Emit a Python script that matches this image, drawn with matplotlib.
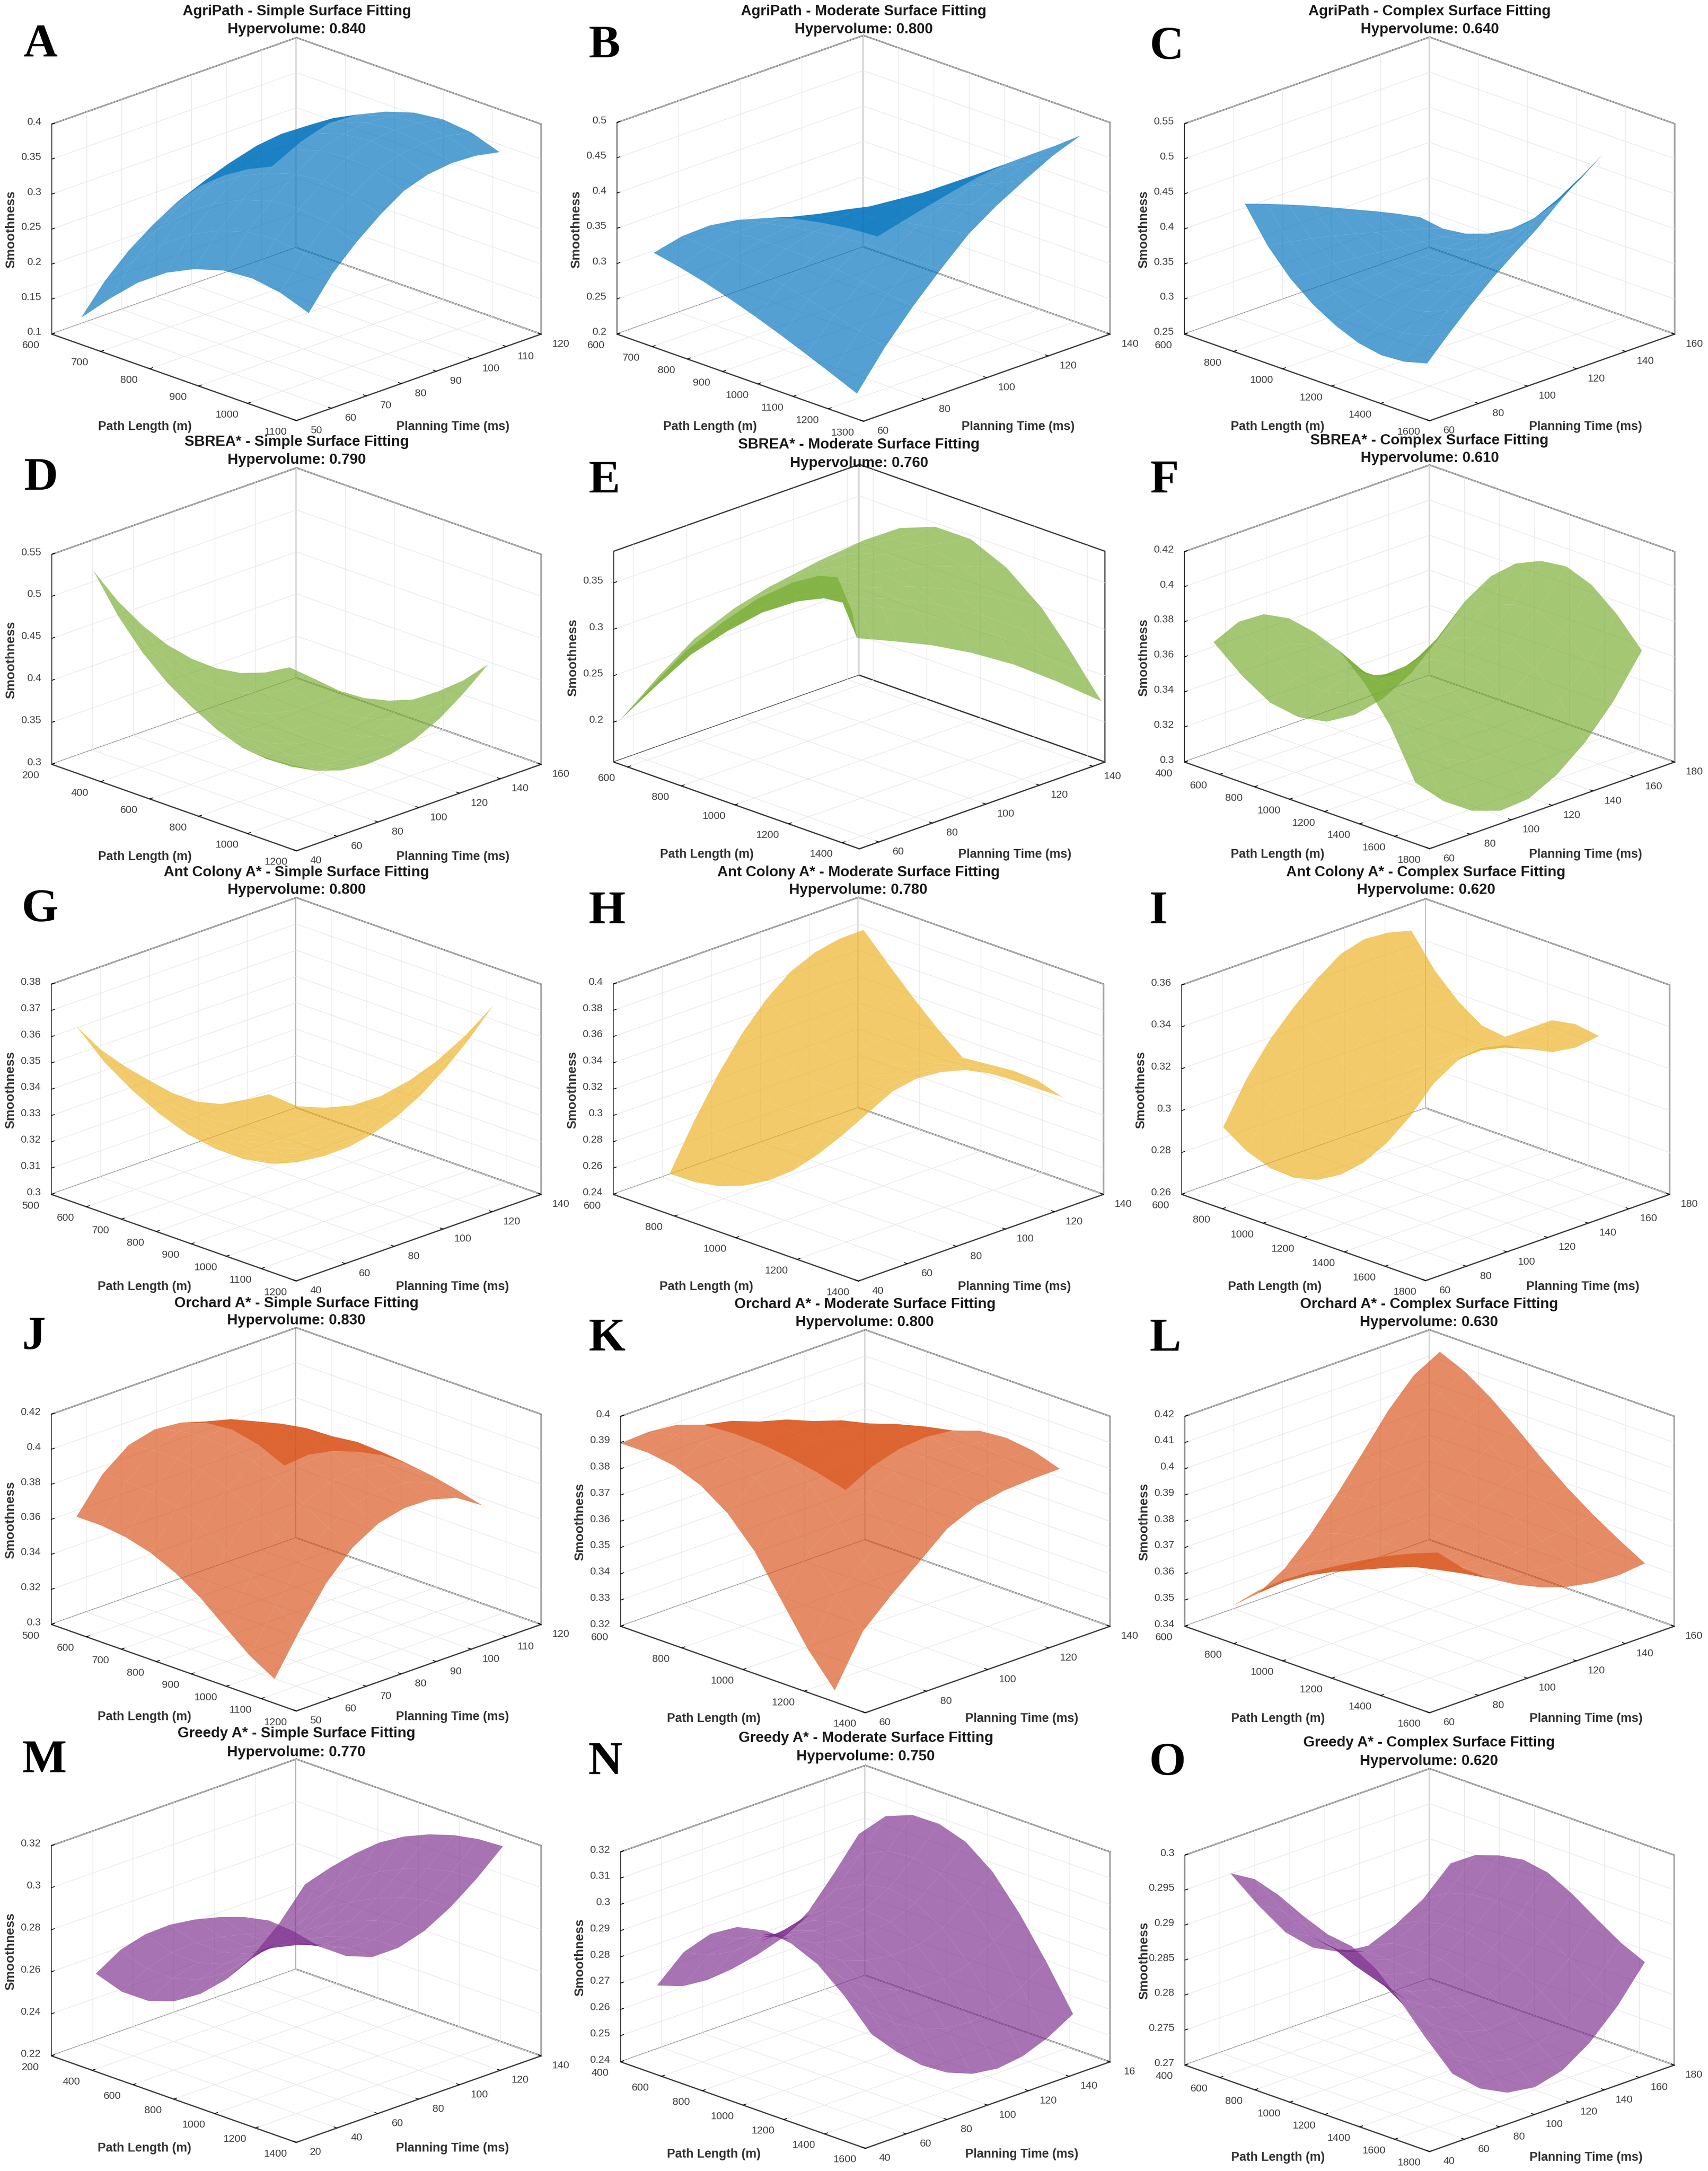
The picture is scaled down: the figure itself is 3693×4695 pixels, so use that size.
import numpy as np
import matplotlib
matplotlib.use("Agg")
import matplotlib.pyplot as plt
from mpl_toolkits.mplot3d import proj3d

plt.rcParams["font.family"] = ["Liberation Sans", "DejaVu Sans"]
W, H = 3693, 4695

BLUE, GREEN, YELLOW, ORANGE, PURPLE = "#0072BD", "#77AC30", "#EDB120", "#D95319", "#7E2F8E"

# surface values: path length, planning time, smoothness[time][path]
A_path = [630, 688, 746, 804, 862, 921, 979, 1037, 1095]
A_time = [54.2, 61.0, 67.8, 74.7, 81.5, 88.3, 95.2, 102.0, 108.8]
A_smooth = [[.1235, .1648, .2022, .2307, .2503, .2627, .2660, .2597, .2450],
            [.1642, .2068, .2449, .2734, .2931, .3059, .3096, .3038, .2894],
            [.1954, .2388, .2774, .3056, .3251, .3379, .3417, .3361, .3217],
            [.2200, .2646, .3038, .3319, .3514, .3644, .3686, .3634, .3493],
            [.2400, .2856, .3254, .3533, .3727, .3859, .3904, .3855, .3715],
            [.2516, .2979, .3379, .3654, .3844, .3974, .4018, .3968, .3827],
            [.2546, .3017, .3422, .3694, .3882, .4013, .4058, .4011, .3870],
            [.2513, .2994, .3404, .3672, .3860, .3991, .4038, .3993, .3853],
            [.2432, .2922, .3336, .3602, .3788, .3919, .3967, .3925, .3785]]

B_path = [652, 725, 797, 869, 941, 1013, 1085, 1157, 1229]
B_time = [66.0, 75.1, 84.2, 93.2, 102.3, 111.4, 120.5, 129.6, 138.6]
B_smooth = [[.3152, .3079, .2987, .2878, .2755, .2621, .2477, .2328, .2174],
            [.3246, .3225, .3187, .3133, .3067, .2986, .2893, .2793, .2692],
            [.3260, .3292, .3307, .3309, .3298, .3271, .3228, .3179, .3130],
            [.3198, .3285, .3358, .3417, .3466, .3495, .3505, .3508, .3516],
            [.3084, .3230, .3363, .3484, .3595, .3685, .3751, .3811, .3878],
            [.2937, .3133, .3318, .3493, .3658, .3800, .3915, .4024, .4141],
            [.2738, .2986, .3225, .3454, .3675, .3869, .4033, .4191, .4361],
            [.2515, .2815, .3109, .3394, .3671, .3920, .4135, .4344, .4566],
            [.2263, .2613, .2957, .3294, .3625, .3923, .4185, .4441, .4713]]

C_path = [723, 816, 909, 1002, 1095, 1188, 1281, 1374, 1467]
C_time = [72.3, 81.2, 90.2, 99.2, 108.1, 117.0, 126.0, 134.9, 143.9]
C_smooth = [[.4360, .3876, .3522, .3265, .3078, .2945, .2887, .2911, .3001],
            [.4248, .3822, .3522, .3315, .3178, .3098, .3095, .3173, .3315],
            [.4126, .3758, .3511, .3353, .3266, .3239, .3290, .3421, .3614],
            [.3998, .3685, .3489, .3379, .3339, .3363, .3467, .3650, .3892],
            [.3863, .3603, .3453, .3387, .3391, .3463, .3615, .3846, .4133],
            [.3726, .3516, .3412, .3389, .3435, .3553, .3753, .4030, .4362],
            [.3588, .3434, .3381, .3406, .3500, .3668, .3921, .4249, .4630],
            [.3442, .3343, .3340, .3412, .3554, .3772, .4077, .4456, .4886],
            [.3283, .3234, .3278, .3393, .3577, .3842, .4194, .4619, .5094]]

D_path = [285, 386, 488, 590, 691, 792, 894, 996, 1097]
D_time = [50.2, 62.2, 74.3, 86.3, 98.3, 110.3, 122.4, 134.4, 146.4]
D_smooth = [[.5304, .4870, .4531, .4275, .4089, .3930, .3824, .3806, .3828],
            [.4841, .4457, .4156, .3934, .3780, .3656, .3588, .3602, .3657],
            [.4447, .4113, .3849, .3662, .3540, .3450, .3422, .3467, .3556],
            [.4116, .3832, .3607, .3453, .3364, .3309, .3319, .3395, .3519],
            [.3846, .3612, .3423, .3304, .3246, .3225, .3273, .3381, .3538],
            [.3629, .3446, .3295, .3209, .3184, .3198, .3285, .3425, .3616],
            [.3468, .3336, .3224, .3174, .3182, .3231, .3358, .3530, .3757],
            [.3371, .3290, .3217, .3202, .3244, .3328, .3495, .3699, .3961],
            [.3330, .3298, .3260, .3278, .3351, .3469, .3672, .3907, .4201]]

E_path = [552, 684, 817, 950, 1083, 1215, 1313, 1383, 1437]
E_time = [52.7, 54.6, 60.2, 69.5, 82.5, 97.4, 113.3, 129.1, 145.9]
E_smooth = [[.1964, .2508, .3040, .3476, .3872, .4183, .4357, .4411, .4099],
            [.2006, .2501, .2982, .3366, .3707, .3963, .4095, .4119, .3792],
            [.2131, .2607, .3063, .3417, .3722, .3938, .4039, .4043, .3722],
            [.2342, .2784, .3197, .3503, .3747, .3897, .3944, .3915, .3603],
            [.2601, .3002, .3359, .3603, .3764, .3826, .3802, .3728, .3432],
            [.2775, .3141, .3447, .3631, .3711, .3686, .3590, .3470, .3198],
            [.2885, .3219, .3476, .3602, .3602, .3488, .3319, .3155, .2909],
            [.2965, .3264, .3469, .3533, .3450, .3244, .3000, .2790, .2569],
            [.3015, .3279, .3429, .3431, .3260, .2959, .2636, .2378, .2184]]

F_path = [483, 627, 771, 915, 1059, 1204, 1348, 1492, 1636]
F_time = [67.1, 80.9, 94.8, 108.7, 122.5, 136.4, 150.2, 164.1, 178.0]
F_smooth = [[.3684, .3851, .3945, .3972, .3944, .3888, .3752, .3563, .3290],
            [.3438, .3615, .3720, .3758, .3742, .3694, .3567, .3387, .3127],
            [.3225, .3415, .3533, .3585, .3581, .3544, .3429, .3259, .3015],
            [.3085, .3284, .3414, .3477, .3484, .3456, .3350, .3189, .2958],
            [.3002, .3213, .3355, .3431, .3451, .3432, .3337, .3185, .2969],
            [.2985, .3208, .3363, .3452, .3484, .3477, .3393, .3250, .3050],
            [.3020, .3254, .3422, .3523, .3567, .3569, .3496, .3363, .3177],
            [.3110, .3355, .3534, .3647, .3703, .3714, .3651, .3526, .3355],
            [.3258, .3513, .3703, .3828, .3894, .3914, .3860, .3744, .3586]]

G_path = [536, 616, 696, 776, 856, 936, 1016, 1096, 1176]
G_time = [45.1, 54.9, 64.8, 74.6, 84.4, 94.3, 104.1, 114.0, 123.8]
G_smooth = [[.3640, .3541, .3471, .3417, .3378, .3361, .3360, .3380, .3428],
            [.3520, .3432, .3375, .3334, .3309, .3306, .3320, .3354, .3415],
            [.3423, .3346, .3301, .3271, .3259, .3269, .3297, .3344, .3417],
            [.3338, .3272, .3239, .3221, .3223, .3247, .3288, .3349, .3434],
            [.3256, .3202, .3183, .3179, .3196, .3235, .3291, .3367, .3467],
            [.3191, .3149, .3144, .3154, .3186, .3241, .3312, .3403, .3517],
            [.3150, .3120, .3128, .3150, .3197, .3266, .3352, .3457, .3584],
            [.3133, .3114, .3133, .3167, .3226, .3308, .3407, .3526, .3665],
            [.3122, .3114, .3146, .3193, .3266, .3362, .3475, .3608, .3760]]

H_path = [692, 773, 854, 935, 1016, 1097, 1178, 1259, 1340]
H_time = [51.5, 61.4, 71.3, 81.2, 91.1, 100.9, 110.8, 120.7, 130.6]
H_smooth = [[.2558, .2561, .2596, .2667, .2773, .2918, .3107, .3323, .3555],
            [.2889, .2865, .2871, .2908, .2980, .3107, .3273, .3458, .3651],
            [.3183, .3129, .3101, .3102, .3137, .3242, .3381, .3533, .3684],
            [.3432, .3348, .3286, .3251, .3247, .3330, .3442, .3560, .3668],
            [.3627, .3514, .3421, .3352, .3313, .3377, .3464, .3550, .3618],
            [.3769, .3629, .3507, .3405, .3332, .3379, .3443, .3499, .3529],
            [.3850, .3689, .3540, .3410, .3307, .3340, .3385, .3416, .3411],
            [.3887, .3707, .3537, .3382, .3254, .3277, .3307, .3316, .3281],
            [.3890, .3696, .3509, .3335, .3185, .3203, .3222, .3214, .3153]]

I_path = [702, 817, 932, 1048, 1163, 1278, 1393, 1508, 1624]
I_time = [70.2, 81.8, 93.4, 104.9, 116.5, 128.1, 139.7, 151.2, 162.8]
I_smooth = [[.2921, .2847, .2806, .2799, .2827, .2891, .2989, .3123, .3291],
            [.3114, .3030, .2980, .2964, .2986, .3051, .3146, .3265, .3409],
            [.3262, .3167, .3107, .3081, .3096, .3161, .3253, .3356, .3476],
            [.3375, .3267, .3196, .3159, .3165, .3230, .3316, .3402, .3496],
            [.3472, .3347, .3261, .3209, .3204, .3264, .3341, .3406, .3470],
            [.3550, .3407, .3305, .3235, .3216, .3270, .3336, .3379, .3412],
            [.3581, .3427, .3314, .3234, .3208, .3261, .3323, .3350, .3357],
            [.3572, .3417, .3303, .3221, .3197, .3260, .3327, .3348, .3339],
            [.3542, .3391, .3284, .3208, .3193, .3272, .3351, .3372, .3355]]

J_path = [536, 606, 677, 748, 819, 890, 960, 1031, 1102]
J_time = [53.6, 61.0, 68.4, 75.9, 83.3, 90.7, 98.1, 105.6, 113.0]
J_smooth = [[.3615, .3615, .3597, .3558, .3493, .3402, .3286, .3171, .3088],
            [.3805, .3813, .3801, .3767, .3708, .3623, .3514, .3404, .3321],
            [.3918, .3941, .3941, .3919, .3873, .3801, .3705, .3607, .3531],
            [.3956, .3997, .4010, .4002, .3971, .3913, .3832, .3747, .3681],
            [.3942, .3998, .4024, .4028, .4010, .3966, .3899, .3826, .3767],
            [.3889, .3959, .3997, .4011, .4005, .3972, .3917, .3854, .3802],
            [.3798, .3882, .3931, .3956, .3961, .3940, .3896, .3844, .3798],
            [.3659, .3759, .3819, .3856, .3874, .3866, .3835, .3795, .3755],
            [.3488, .3600, .3671, .3716, .3745, .3747, .3727, .3696, .3660]]

K_path = [600, 688, 775, 862, 950, 1038, 1125, 1212, 1300]
K_time = [60.0, 69.2, 78.4, 87.6, 96.8, 106.0, 115.2, 124.4, 133.6]
K_smooth = [[.3897, .3898, .3883, .3844, .3774, .3666, .3516, .3365, .3244],
            [.3903, .3926, .3932, .3915, .3868, .3784, .3661, .3534, .3431],
            [.3892, .3928, .3947, .3943, .3910, .3842, .3737, .3624, .3530],
            [.3852, .3905, .3938, .3949, .3933, .3883, .3797, .3702, .3619],
            [.3784, .3856, .3908, .3938, .3941, .3913, .3851, .3778, .3709],
            [.3705, .3792, .3859, .3903, .3923, .3912, .3870, .3813, .3756],
            [.3616, .3717, .3796, .3853, .3887, .3892, .3867, .3825, .3777],
            [.3520, .3633, .3724, .3792, .3840, .3860, .3851, .3824, .3783],
            [.3416, .3543, .3645, .3726, .3787, .3822, .3831, .3818, .3785]]

L_path = [698, 803, 908, 1012, 1117, 1222, 1326, 1431, 1536]
L_time = [69.8, 80.4, 91.0, 101.5, 112.1, 122.7, 133.2, 143.8, 154.4]
L_smooth = [[.3479, .3571, .3647, .3710, .3767, .3823, .3874, .3919, .3957],
            [.3492, .3569, .3629, .3677, .3718, .3760, .3799, .3833, .3860],
            [.3551, .3611, .3652, .3682, .3705, .3729, .3752, .3772, .3788],
            [.3645, .3684, .3705, .3714, .3716, .3721, .3726, .3730, .3731],
            [.3760, .3778, .3777, .3764, .3744, .3727, .3714, .3700, .3685],
            [.3885, .3883, .3860, .3825, .3783, .3746, .3713, .3682, .3652],
            [.4012, .3990, .3947, .3891, .3830, .3773, .3723, .3677, .3633],
            [.4113, .4077, .4019, .3947, .3871, .3800, .3738, .3681, .3627],
            [.4167, .4124, .4059, .3980, .3896, .3819, .3752, .3692, .3637]]

M_path = [309, 430, 552, 673, 794, 915, 1036, 1158, 1279]
M_time = [30.9, 43.7, 56.5, 69.3, 82.2, 95.0, 107.8, 120.6, 133.4]
M_smooth = [[.2591, .2746, .2862, .2949, .3015, .3068, .3110, .3135, .3125],
            [.2461, .2613, .2731, .2820, .2889, .2943, .2987, .3013, .3008],
            [.2374, .2523, .2639, .2730, .2799, .2854, .2897, .2923, .2920],
            [.2328, .2472, .2588, .2679, .2749, .2804, .2846, .2872, .2871],
            [.2319, .2460, .2576, .2670, .2742, .2798, .2841, .2869, .2871],
            [.2345, .2483, .2601, .2697, .2771, .2829, .2873, .2902, .2908],
            [.2412, .2546, .2663, .2761, .2836, .2894, .2939, .2968, .2977],
            [.2520, .2648, .2762, .2860, .2934, .2990, .3033, .3060, .3069],
            [.2664, .2784, .2893, .2988, .3058, .3110, .3148, .3171, .3178]]

N_path = [489, 620, 752, 883, 1014, 1146, 1277, 1409, 1540]
N_time = [48.9, 61.3, 73.6, 86.0, 98.4, 110.8, 123.1, 135.5, 147.9]
N_smooth = [[.2691, .2854, .2960, .3022, .3045, .3032, .2988, .2903, .2795],
            [.2654, .2808, .2906, .2961, .2976, .2955, .2901, .2807, .2693],
            [.2644, .2790, .2878, .2924, .2930, .2900, .2834, .2731, .2608],
            [.2653, .2791, .2869, .2906, .2905, .2865, .2789, .2677, .2546],
            [.2673, .2804, .2875, .2905, .2897, .2849, .2764, .2645, .2507],
            [.2704, .2829, .2894, .2919, .2907, .2853, .2760, .2635, .2493],
            [.2769, .2888, .2946, .2965, .2947, .2887, .2786, .2654, .2506],
            [.2878, .2989, .3038, .3048, .3022, .2952, .2840, .2699, .2543],
            [.2996, .3100, .3141, .3143, .3110, .3032, .2910, .2762, .2599]]

O_path = [530, 669, 808, 947, 1086, 1225, 1364, 1503, 1642]
O_time = [53.0, 68.8, 84.5, 100.3, 116.0, 131.8, 147.5, 163.3, 179.0]
O_smooth = [[.2974, .2978, .2967, .2950, .2936, .2931, .2911, .2877, .2839],
            [.2915, .2919, .2909, .2893, .2877, .2868, .2845, .2810, .2772],
            [.2862, .2869, .2863, .2850, .2836, .2826, .2804, .2771, .2737],
            [.2826, .2836, .2833, .2824, .2812, .2801, .2779, .2748, .2717],
            [.2806, .2819, .2820, .2814, .2802, .2790, .2768, .2739, .2711],
            [.2801, .2817, .2821, .2818, .2808, .2795, .2773, .2746, .2721],
            [.2817, .2835, .2842, .2842, .2833, .2817, .2795, .2769, .2747],
            [.2840, .2861, .2871, .2874, .2867, .2850, .2828, .2804, .2785],
            [.2877, .2901, .2913, .2919, .2913, .2895, .2872, .2850, .2834]]

# axis limits and ticks
PATH_1100 = [600, 700, 800, 900, 1000, 1100]
PATH_1200 = [500, 600, 700, 800, 900, 1000, 1100, 1200]
PATH_1300 = [600, 700, 800, 900, 1000, 1100, 1200, 1300]
PATH_1400 = [600, 800, 1000, 1200, 1400]
PATH_1600 = [600, 800, 1000, 1200, 1400, 1600]
PATH_1800 = [600, 800, 1000, 1200, 1400, 1600, 1800]
PATH_FROM_200 = [200, 400, 600, 800, 1000, 1200]
PATH_FROM_400 = [400, 600, 800, 1000, 1200, 1400, 1600, 1800]
TIME_50 = [50, 60, 70, 80, 90, 100, 110, 120]
TIME_60_140 = [60, 80, 100, 120, 140]
TIME_60_160 = [60, 80, 100, 120, 140, 160]
TIME_60_180 = [60, 80, 100, 120, 140, 160, 180]
TIME_40_140 = [40, 60, 80, 100, 120, 140]
TIME_40_160 = [40, 60, 80, 100, 120, 140, 160]
TIME_40_180 = [40, 60, 80, 100, 120, 140, 160, 180]

PANELS = [
    dict(n="A", t="AgriPath - Simple Surface Fitting", hv="0.840", c=BLUE, path=A_path, time=A_time, s=A_smooth,
         xl=(600, 1100), yl=(50, 120), zl=(.1, .4), xt=PATH_1100, yt=TIME_50, zt=[.1, .15, .2, .25, .3, .35, .4],
         box=(112, 1170, 722.6), tp=(642, 25, 64), lt=(51, 122)),
    dict(n="B", t="AgriPath - Moderate Surface Fitting", hv="0.800", c=BLUE, path=B_path, time=B_time, s=B_smooth,
         xl=(600, 1300), yl=(60, 140), zl=(.2, .5), xt=PATH_1300, yt=TIME_60_140, zt=[.2, .25, .3, .35, .4, .45, .5],
         box=(1334, 2400, 722.6), tp=(1867, 25, 64), lt=(1272, 125)),
    dict(n="C", t="AgriPath - Complex Surface Fitting", hv="0.640", c=BLUE, path=C_path, time=C_time, s=C_smooth,
         xl=(600, 1600), yl=(60, 160), zl=(.25, .55), xt=PATH_1600, yt=TIME_60_160, zt=[.25, .3, .35, .4, .45, .5, .55],
         box=(2561, 3621, 722.6), tp=(3091, 25, 64), lt=(2486, 128)),
    dict(n="D", t="SBREA* - Simple Surface Fitting", hv="0.790", c=GREEN, path=D_path, time=D_time, s=D_smooth,
         xl=(200, 1200), yl=(40, 160), zl=(.3, .55), xt=PATH_FROM_200, yt=TIME_40_160, zt=[.3, .35, .4, .45, .5, .55],
         box=(112, 1170, 1653), tp=(642, 956, 995), lt=(51, 1060)),
    dict(n="E", t="SBREA* - Moderate Surface Fitting", hv="0.760", c=GREEN, path=E_path, time=E_time, s=E_smooth,
         xl=(548, 1464), yl=(52.7, 144.5), zl=(.157, .384), xt=PATH_1400, yt=TIME_60_140, zt=[.2, .25, .3, .35],
         box=(1327, 2389, 1648), tp=(1857, 962, 1002), lt=(1272, 1065)),
    dict(n="F", t="SBREA* - Complex Surface Fitting", hv="0.610", c=GREEN, path=F_path, time=F_time, s=F_smooth,
         xl=(400, 1800), yl=(60, 180), zl=(.3, .42), xt=PATH_FROM_400, yt=TIME_60_180, zt=[.3, .32, .34, .36, .38, .4, .42],
         box=(2561, 3621, 1648), tp=(3091, 953, 991), lt=(2486, 1065)),
    dict(n="G", t="Ant Colony A* - Simple Surface Fitting", hv="0.800", c=YELLOW, path=G_path, time=G_time, s=G_smooth,
         xl=(500, 1200), yl=(40, 140), zl=(.3, .38), xt=PATH_1200, yt=TIME_40_140, zt=[.3, .31, .32, .33, .34, .35, .36, .37, .38],
         box=(111, 1170, 2583), tp=(641, 1887, 1925), lt=(47, 1993)),
    dict(n="H", t="Ant Colony A* - Moderate Surface Fitting", hv="0.780", c=YELLOW, path=H_path, time=H_time, s=H_smooth,
         xl=(600, 1400), yl=(40, 140), zl=(.24, .4), xt=PATH_1400, yt=TIME_40_140, zt=[.24, .26, .28, .3, .32, .34, .36, .38, .4],
         box=(1326, 2386, 2583), tp=(1856, 1887, 1925), lt=(1272, 1996)),
    dict(n="I", t="Ant Colony A* - Complex Surface Fitting", hv="0.620", c=YELLOW, path=I_path, time=I_time, s=I_smooth,
         xl=(600, 1800), yl=(60, 180), zl=(.26, .36), xt=PATH_1800, yt=TIME_60_180, zt=[.26, .28, .3, .32, .34, .36],
         box=(2555, 3610, 2583), tp=(3083, 1887, 1925), lt=(2485, 1996)),
    dict(n="J", t="Orchard A* - Simple Surface Fitting", hv="0.830", c=ORANGE, path=J_path, time=J_time, s=J_smooth,
         xl=(500, 1200), yl=(50, 120), zl=(.3, .42), xt=PATH_1200, yt=TIME_50, zt=[.3, .32, .34, .36, .38, .4, .42],
         box=(111, 1170, 3513), tp=(641, 2819, 2856), lt=(47, 2917)),
    dict(n="K", t="Orchard A* - Moderate Surface Fitting", hv="0.800", c=ORANGE, path=K_path, time=K_time, s=K_smooth,
         xl=(600, 1400), yl=(60, 140), zl=(.32, .4), xt=PATH_1400, yt=TIME_60_140, zt=[.32, .33, .34, .35, .36, .37, .38, .39, .4],
         box=(1342, 2400, 3517), tp=(1870, 2821, 2860), lt=(1272, 2921)),
    dict(n="L", t="Orchard A* - Complex Surface Fitting", hv="0.630", c=ORANGE, path=L_path, time=L_time, s=L_smooth,
         xl=(600, 1600), yl=(60, 160), zl=(.34, .42), xt=PATH_1600, yt=TIME_60_160, zt=[.34, .35, .36, .37, .38, .39, .4, .41, .42],
         box=(2562, 3620, 3517), tp=(3090, 2821, 2860), lt=(2485, 2921)),
    dict(n="M", t="Greedy A* - Simple Surface Fitting", hv="0.770", c=PURPLE, path=M_path, time=M_time, s=M_smooth,
         xl=(200, 1400), yl=(20, 140), zl=(.22, .32), xt=[200, 400, 600, 800, 1000, 1200, 1400], yt=[20, 40, 60, 80, 100, 120, 140],
         zt=[.22, .24, .26, .28, .3, .32], box=(111, 1170, 4446), tp=(641, 3749, 3790), lt=(47, 3833)),
    dict(n="N", t="Greedy A* - Moderate Surface Fitting", hv="0.750", c=PURPLE, path=N_path, time=N_time, s=N_smooth,
         xl=(400, 1600), yl=(40, 160), zl=(.24, .32), xt=[400, 600, 800, 1000, 1200, 1400, 1600], yt=TIME_40_160,
         ytl=["40", "60", "80", "100", "120", "140", "16"], zt=[.24, .25, .26, .27, .28, .29, .3, .31, .32],
         box=(1342, 2400, 4459), tp=(1872, 3759, 3799), lt=(1272, 3837)),
    dict(n="O", t="Greedy A* - Complex Surface Fitting", hv="0.620", c=PURPLE, path=O_path, time=O_time, s=O_smooth,
         xl=(400, 1800), yl=(40, 180), zl=(.27, .3), xt=PATH_FROM_400, yt=TIME_40_180, zt=[.27, .275, .28, .285, .29, .295, .3],
         box=(2562, 3620, 4466), tp=(3090, 3769, 3809), lt=(2485, 3839)),
]

LINE = "#3a3a3a"
TICKTXT = "#404040"


def place(ax, L, R, yb):
    # size the square 3d axes so the floor corners land on the wanted pixels
    s = 1400.0
    ax.set_position([0, 0, s / W, s / H])
    xl, yl, zl = ax.get_xlim(), ax.get_ylim(), ax.get_zlim()
    M = ax.get_proj()

    def corners():
        out = []
        for xx, yy in ((xl[0], yl[0]), (xl[1], yl[1])):
            x2, y2, _ = proj3d.proj_transform(xx, yy, zl[0], M)
            out.append(ax.transData.transform((x2, y2)))
        return out
    p0, p1 = corners()
    s2 = s * (R - L) / (p1[0] - p0[0])
    ax.set_position([0, 0, s2 / W, s2 / H])
    p0, p1 = corners()
    ax.set_position([(L - p0[0]) / W, (H - yb - p0[1]) / H, s2 / W, s2 / H])


fig = plt.figure(figsize=(W / 300, H / 300), dpi=300, facecolor="white")
for p in PANELS:
    ax = fig.add_subplot(projection="3d", proj_type="ortho")
    ax.set_facecolor("none")
    ax.view_init(elev=20.7, azim=-45)
    ax.set_box_aspect((1, 1, 0.649))
    XX, YY = np.meshgrid(p["path"], p["time"])
    ax.plot_surface(XX, YY, np.array(p["s"]), color=p["c"], alpha=0.67, shade=False, linewidth=0,
                    antialiased=True, rstride=1, cstride=1)
    x0, x1 = p["xl"]; y0, y1 = p["yl"]; z0, z1 = p["zl"]
    ax.set_xlim(x0, x1, view_margin=0)
    ax.set_ylim(y0, y1, view_margin=0)
    ax.set_zlim(z0, z1, view_margin=0)
    ax.set_xticks(p["xt"]); ax.set_yticks(p["yt"]); ax.set_zticks(p["zt"])
    ax.set_xticklabels([]); ax.set_yticklabels([]); ax.set_zticklabels([])
    ax.zaxis.set_ticks_position("lower")
    for a3 in (ax.xaxis, ax.yaxis, ax.zaxis):
        a3.set_pane_color((1, 1, 1, 1))
        a3.pane.set_edgecolor(LINE)
        a3.pane.set_linewidth(0.65)
        a3.line.set_color(LINE)
        a3.line.set_linewidth(0.45)
        a3._axinfo["grid"].update(color="#e6e6e6", linewidth=0.3)
        a3._axinfo["tick"].update(inward_factor=0.0, outward_factor=0.15, color=LINE,
                                  linewidth={True: 0.4, False: 0.4})
    # tick labels sit in data space, offset along the other floor axis
    xr, yr, zr = x1 - x0, y1 - y0, z1 - z0
    for v in p["xt"]:
        ax.text(v, y0 - .085 * yr, z0 - .02 * zr, "%g" % v, ha="center", va="center", fontsize=5.4, color=TICKTXT)
    for v, s in zip(p["yt"], p.get("ytl", ["%g" % v for v in p["yt"]])):
        ax.text(x1 + .08 * xr, v, z0 - .015 * zr, s, ha="center", va="center", fontsize=5.4, color=TICKTXT)
    for v in p["zt"]:
        ax.text(x0, y0 - .043 * yr, v + .026 * zr, "%g" % v, ha="right", va="center", fontsize=5.4, color=TICKTXT)
    L, R, yb = p["box"]
    place(ax, L, R, yb)
    tx, t1, t2 = p["tp"]
    fig.text(tx / W, 1 - t1 / H, p["t"], ha="center", va="center", fontsize=7.6, fontweight="bold", color="#1a1a1a")
    fig.text(tx / W, 1 - t2 / H, "Hypervolume: " + p["hv"], ha="center", va="center", fontsize=7.6, fontweight="bold", color="#1a1a1a")
    fig.text(p["lt"][0] / W, 1 - p["lt"][1] / H, p["n"], ha="left", va="baseline", fontsize=24.5, fontweight="bold",
             family=["Liberation Serif"], color="black")
    fig.text((L + 201) / W, 1 - (yb + 200) / H, "Path Length (m)", ha="center", va="center", fontsize=6.4, fontweight="bold", color="#333333")
    fig.text((L + 867) / W, 1 - (yb + 200) / H, "Planning Time (ms)", ha="center", va="center", fontsize=6.4, fontweight="bold", color="#333333")
    fig.text((L - 88) / W, 1 - (yb - 226) / H, "Smoothness", ha="center", va="center", rotation=90, fontsize=6.7, fontweight="bold", color="#333333")

fig.savefig("out.png", dpi=300)
